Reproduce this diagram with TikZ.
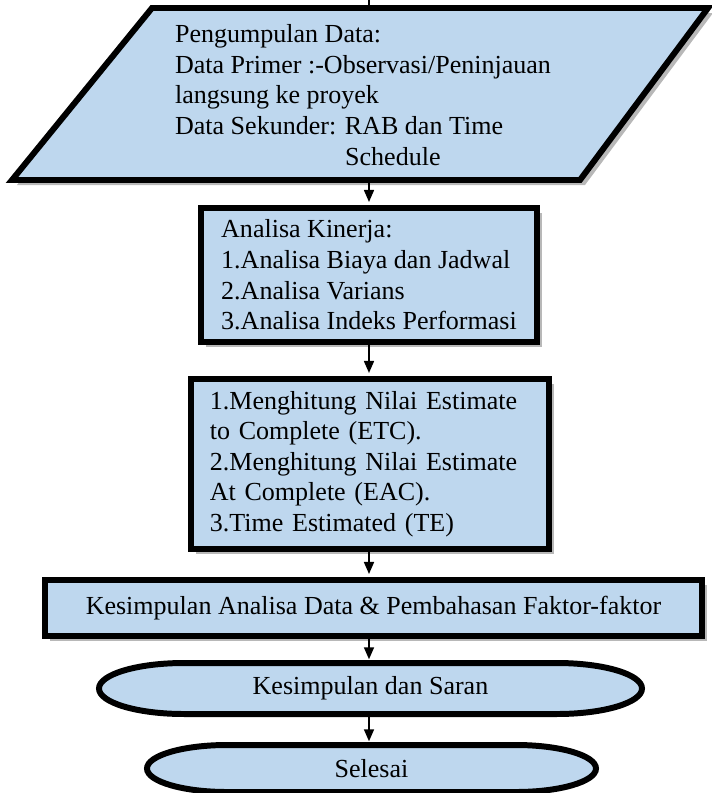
\documentclass[tikz,border=0pt]{standalone}
\usepackage{fontspec}
\setmainfont{Liberation Serif}
\usetikzlibrary{arrows.meta}
\usetikzlibrary{calc,shadows}

\definecolor{boxblue}{RGB}{190,215,238}

\tikzset{
	flow/.style={draw, line width=1.7pt, fill=boxblue},
	shade box/.style={drop shadow={shadow xshift=0.05cm, shadow yshift=-0.05cm, fill=black!35, opacity=0.8}},
	stepbox/.style={flow, shade box, rectangle, inner sep=0pt},
	endbox/.style={rectangle, inner sep=0pt},
	txt/.style={font=\fontsize{7.4}{8.7}\selectfont, align=left},
	arr/.style={-{Triangle[length=0.12cm,width=0.1cm]}, line width=0.45pt, shorten >=0.03cm},
}

\begin{document}
\begin{tikzpicture}[x=0.01cm,y=-0.01cm]

		\useasboundingbox (0,0) rectangle (712,793);

		\coordinate (P1) at (152,8) ;
		\coordinate (P2) at (708,8) ;
		\coordinate (P3) at (580,180) ;
		\coordinate (P4) at (12,180) ;
		\coordinate (top) at (369,0) ;
		\coordinate (dataN) at (369,8) ;
		\coordinate (dataS) at (369,180) ;

		% pengumpulan data
		\draw [flow, shade box] (P1)--(P2)--(P3)--(P4)--cycle;
		\node [txt] (data) at (363,95) {Pengumpulan Data:\\Data Primer :-Observasi/Peninjauan\\langsung ke proyek\\Data Sekunder: RAB dan Time\\\hspace*{1.7cm}Schedule};

		\node [stepbox, txt, minimum width=3.36cm, minimum height=1.34cm] (kinerja) at (369,275) {Analisa Kinerja:\\1.Analisa Biaya dan Jadwal\\2.Analisa Varians\\3.Analisa Indeks Performasi};

		\node [stepbox, txt, text width=3.2cm, align=left, minimum width=3.58cm, minimum height=1.70cm] (hitung) at (370,464) {1.Menghitung Nilai Estimate\\to Complete (ETC).\\2.Menghitung Nilai Estimate\\At Complete (EAC).\\3.Time Estimated (TE)};

		\node [stepbox, txt, minimum width=6.57cm, minimum height=0.56cm] (simpul) at (373.5,608) {Kesimpulan Analisa Data \& Pembahasan Faktor-faktor};

		% terminator
		\draw [flow] (557,663) arc [start angle=-90, end angle=90, x radius=85, y radius=25.5] -- (184,714) arc [start angle=90, end angle=270, x radius=85, y radius=25.5] -- cycle;
		\node [endbox, txt, minimum width=5.43cm, minimum height=0.51cm] (saran) at (370.5,688.5) {Kesimpulan dan Saran};

		\draw [flow] (516,745) arc [start angle=-90, end angle=90, x radius=80, y radius=23.5] -- (227,792) arc [start angle=90, end angle=270, x radius=80, y radius=23.5] -- cycle;
		\node [endbox, txt, minimum width=4.49cm, minimum height=0.47cm] (selesai) at (371.5,768.5) {Selesai};

		\draw [line width=0.45pt] (top) -- (dataN);
		\draw [arr] (dataS) -- (dataS |- kinerja.north);
		\draw [arr] (dataS |- kinerja.south) -- (dataS |- hitung.north);
		\draw [arr] (dataS |- hitung.south) -- (dataS |- simpul.north);
		\draw [arr] (dataS |- simpul.south) -- (dataS |- saran.north);
		\draw [arr] (dataS |- saran.south) -- (dataS |- selesai.north);

\end{tikzpicture}
\end{document}
